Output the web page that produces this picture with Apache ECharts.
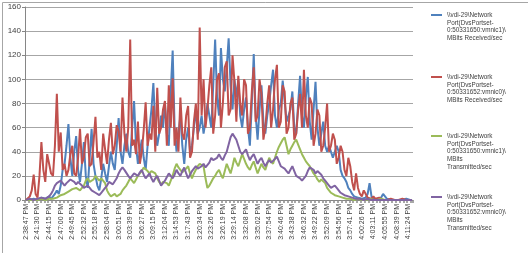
<!DOCTYPE html>
<html><head><meta charset="utf-8">
<script src="https://cdn.jsdelivr.net/npm/echarts@6/dist/echarts.min.js"></script>
<style>html,body{margin:0;padding:0;background:#fff}#c{width:528px;height:253px}</style>
</head><body><div id="c"></div>
<script>
const tickLabels = ['2:38:47 PM','2:41:30 PM','2:44:15 PM','2:47:00 PM','2:49:45 PM','2:52:32 PM','2:55:18 PM','2:58:04 PM','3:00:51 PM','3:03:39 PM','3:06:27 PM','3:09:15 PM','3:12:04 PM','3:14:53 PM','3:17:43 PM','3:20:34 PM','3:23:26 PM','3:26:19 PM','3:29:14 PM','3:32:08 PM','3:35:02 PM','3:37:54 PM','3:40:46 PM','3:43:38 PM','3:46:32 PM','3:49:22 PM','3:52:09 PM','3:54:56 PM','3:57:41 PM','4:00:26 PM','4:03:11 PM','4:05:55 PM','4:08:39 PM','4:11:24 PM'];
const samplesPerLabel = 6;

const seriesNames = [
  '\\\\vdi-29\\Network Port(DvsPortset-0:50331650:vmnic1)\\MBits Received/sec',
  '\\\\vdi-29\\Network Port(DvsPortset-0:50331652:vmnic0)\\MBits Received/sec',
  '\\\\vdi-29\\Network Port(DvsPortset-0:50331650:vmnic1)\\MBits Transmitted/sec',
  '\\\\vdi-29\\Network Port(DvsPortset-0:50331652:vmnic0)\\MBits Transmitted/sec'
];
const legendLines = [
  ['\\\\vdi-29\\Network','Port(DvsPortset-','0:50331650:vmnic1)\\','MBits Received/sec'],
  ['\\\\vdi-29\\Network','Port(DvsPortset-','0:50331652:vmnic0)\\','MBits Received/sec'],
  ['\\\\vdi-29\\Network','Port(DvsPortset-','0:50331650:vmnic1)\\','MBits','Transmitted/sec'],
  ['\\\\vdi-29\\Network','Port(DvsPortset-','0:50331652:vmnic0)\\','MBits','Transmitted/sec']
];
const colors = ['#4F81BD','#C0504D','#9BBB59','#8064A2'];

const vmnic1Received = [
 0,0,0,0,1,0,0,1,2,1,
 1,2,3,1,2,5,8,5,12,25,
 30,45,63,35,20,40,53,25,15,30,
 48,20,10,35,59,30,20,12,8,18,
 30,22,15,28,40,30,25,45,68,40,
 30,45,55,40,35,60,82,45,30,40,
 50,35,25,45,60,75,97,60,45,55,
 70,60,80,55,45,90,124,60,40,55,
 70,45,30,50,60,40,45,60,75,55,
 60,70,55,65,80,70,60,95,133,85,
 70,126,100,90,110,134,95,75,100,85,
 100,70,60,75,85,60,45,80,121,70,
 50,75,95,65,55,70,80,95,108,70,
 60,75,80,99,99,65,65,75,90,60,
 55,80,103,70,60,85,102,65,50,75,
 98,60,45,55,65,45,40,45,45,35,
 35,45,40,25,20,18,15,10,8,5,
 3,2,2,1,1,2,2,5,14,3,
 1,0,0,1,2,5,5,1,1,0,
 0,0,1,0,0,0,0,1,1,0,
 0];
const vmnic0Received = [
 0,1,3,8,21,5,2,20,48,25,
 15,38,30,22,20,45,88,40,56,25,
 30,20,25,38,45,22,20,35,59,30,
 35,52,55,28,30,48,69,35,40,25,
 55,42,30,50,64,38,45,62,57,40,
 85,55,40,60,133,45,50,38,65,30,
 40,58,81,45,55,50,78,40,93,55,
 60,75,82,45,95,60,101,45,60,40,
 85,55,50,70,78,35,40,65,80,50,
 143,70,100,60,75,95,110,55,70,100,
 105,60,80,110,115,70,75,120,98,65,
 103,80,70,100,95,55,60,90,110,65,
 70,100,88,50,60,80,95,60,75,100,
 112,60,65,95,90,55,60,80,85,50,
 55,75,88,60,108,70,60,85,80,45,
 55,75,70,40,45,60,80,40,45,55,
 50,30,35,45,40,25,20,35,28,15,
 8,22,10,5,3,8,5,2,2,1,
 3,1,1,2,2,0,1,0,0,1,
 1,0,0,0,0,1,1,0,0,0,
 0];
const vmnic1Transmitted = [
 0,0,0,0,0,0,0,1,1,0,
 0,1,1,1,1,2,2,3,4,5,
 5,6,7,8,9,10,10,9,8,10,
 12,16,18,15,14,17,20,18,16,18,
 19,14,8,5,3,4,5,3,2,5,
 8,10,12,15,18,16,14,17,20,22,
 24,27,26,24,22,24,25,22,18,15,
 13,15,16,14,12,16,20,26,30,27,
 25,23,22,26,28,22,18,22,25,28,
 30,29,28,18,10,12,15,18,20,23,
 25,21,18,24,30,26,22,28,35,31,
 28,33,38,34,30,27,25,29,32,27,
 22,26,30,27,25,30,35,32,30,35,
 40,44,47,50,52,45,38,42,45,48,
 50,46,42,38,35,32,30,28,25,22,
 20,17,15,17,18,14,10,8,6,5,
 4,3,3,2,2,1,1,1,1,0,
 0,1,1,0,0,0,0,0,1,0,
 0,0,0,0,1,0,0,0,0,0,
 0,0,0,0,0,0,0,0,0,0,
 0];
const vmnic0Transmitted = [
 0,0,1,0,0,1,1,2,2,1,
 1,2,3,5,8,12,14,13,16,14,
 12,14,15,17,18,15,13,15,16,12,
 10,11,12,10,8,7,6,5,4,6,
 8,10,12,15,16,13,14,18,22,25,
 27,25,24,20,18,20,22,21,20,23,
 25,21,18,20,22,18,15,18,20,16,
 12,14,16,19,22,20,18,21,25,22,
 20,24,27,22,18,21,24,26,28,26,
 25,28,30,27,26,31,35,33,32,35,
 38,35,33,37,40,46,52,55,56,50,
 45,40,38,40,42,37,33,36,38,34,
 30,33,35,31,28,31,33,31,30,34,
 36,32,28,27,26,24,22,25,28,24,
 20,19,18,16,15,20,24,27,28,25,
 22,24,25,21,18,16,14,12,10,11,
 12,10,8,6,5,4,4,3,3,2,
 2,1,1,1,1,0,0,1,1,0,
 0,0,0,0,0,0,0,0,0,0,
 0,0,0,0,0,0,0,0,0,0,
 0];

const seriesData = [vmnic1Received, vmnic0Received, vmnic1Transmitted, vmnic0Transmitted];
const categories = vmnic1Received.map((_, i) => String(i));

const FONT = "'Liberation Sans', Arial, sans-serif";
const LH = 7.8;
const legendFirstLineY = [15, 77, 136, 197];

function iconPath(h) {
  const c = LH / 2;
  return 'path://M0,0L0.02,0L0.02,0.02L0,0.02Z M0,' + (c - 1) + 'L12,' + (c - 1) + 'L12,' + (c + 1) + 'L0,' + (c + 1) + 'Z M0,' + (h - 0.02) + 'L0.02,' + (h - 0.02) + 'L0.02,' + h + 'L0,' + h + 'Z';
}

const legends = seriesNames.map((name, i) => {
  const h = legendLines[i].length * LH;
  return {
    orient: 'vertical', left: 431, top: legendFirstLineY[i] - LH / 2,
    padding: 0, itemWidth: 11, itemHeight: h, selectedMode: false,
    symbolKeepAspect: false,
    data: [{ name: name, icon: iconPath(h), itemStyle: { color: colors[i], borderWidth: 0 } }],
    formatter: () => legendLines[i].join('\n'),
    textStyle: { fontSize: 6.3, lineHeight: LH, color: '#404040', fontFamily: FONT }
  };
});

const chart = echarts.init(document.getElementById('c'), null, { renderer: 'canvas' });
chart.setOption({
  animation: false,
  backgroundColor: '#fff',
  grid: { left: 25, right: 115, top: 7, bottom: 53, outerBoundsMode: 'none' },
  legend: legends,
  xAxis: {
    type: 'category', data: categories, boundaryGap: true,
    axisLine: { lineStyle: { color: '#868686', width: 1 } },
    axisTick: { show: true, interval: 1, length: 3, lineStyle: { color: '#8c8c8c', width: 1.5 } },
    axisLabel: {
      interval: samplesPerLabel - 1, rotate: 90, margin: 4, fontSize: 7, color: '#404040', fontFamily: FONT,
      formatter: (v, idx) => (idx % samplesPerLabel === 0 ? (tickLabels[idx / samplesPerLabel] || '') : '')
    },
    splitLine: { show: false }
  },
  yAxis: {
    type: 'value', min: 0, max: 160, interval: 20,
    axisLine: { show: true, lineStyle: { color: '#868686' } },
    axisTick: { show: true, length: 3, lineStyle: { color: '#868686' } },
    axisLabel: { fontSize: 8, color: '#404040', margin: 4, fontFamily: FONT },
    splitLine: { lineStyle: { color: '#A6A6A6', width: 1 } }
  },
  series: seriesNames.map((name, i) => ({
    name: name, type: 'line', data: seriesData[i], symbol: 'none', showSymbol: false,
    lineStyle: { color: colors[i], width: 2 }, itemStyle: { color: colors[i] },
    emphasis: { disabled: true }
  })),
  graphic: [{
    type: 'rect', left: 0, top: 0, silent: true,
    shape: { x: 0.5, y: 0.5, width: 527, height: 252 },
    style: { fill: 'none', stroke: '#a6a6a6', lineWidth: 1 }
  }]
});
</script>
</body></html>
